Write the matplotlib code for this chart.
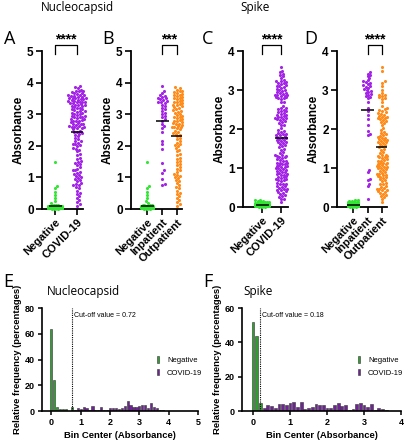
import numpy as np
import matplotlib
matplotlib.use("Agg")
import matplotlib.pyplot as plt
from matplotlib.patches import Patch
from matplotlib.transforms import ScaledTranslation

plt.rcParams['font.family'] = ['Liberation Sans', 'DejaVu Sans']

# ---- dot plot data (absorbance) ----
nuc_negative = [0.01, 0.02, 0.02, 0.03, 0.03, 0.03, 0.04, 0.04, 0.04, 0.04, 0.05, 0.05, 0.05, 0.05, 0.05,
                0.02, 0.03, 0.04, 0.01, 0.02, 0.03, 0.04, 0.05, 0.03, 0.02, 0.04, 0.03, 0.05, 0.04, 0.03,
                0.02, 0.04, 0.05, 0.03, 0.04, 0.01, 0.02, 0.03, 0.04, 0.05, 0.03, 0.04, 0.02, 0.03, 0.05,
                0.04, 0.03, 0.04,
                0.06, 0.07, 0.08, 0.09, 0.10, 0.11, 0.12, 0.13, 0.14, 0.06, 0.07, 0.08, 0.09, 0.10, 0.11,
                0.12, 0.08, 0.10,
                0.18, 0.25, 0.35, 0.45, 0.55, 0.65, 0.72, 1.50]
nuc_inpatient = [3.88, 3.75, 3.68, 3.62, 3.58, 3.55, 3.52, 3.50, 3.48, 3.45, 3.42, 3.40, 3.38, 3.35,
                 3.30, 3.25, 3.20, 3.15, 3.10, 3.05, 3.00, 2.95, 2.90, 2.85, 2.80, 2.70, 2.62, 2.55,
                 2.45, 2.15, 2.05, 1.90, 1.45, 1.22, 1.15, 0.95, 0.80, 0.75]
nuc_outpatient = [3.85, 3.82, 3.78, 3.75, 3.72, 3.70, 3.68, 3.65, 3.62, 3.60, 3.58, 3.55, 3.52, 3.50,
                  3.48, 3.45, 3.42, 3.40, 3.38, 3.35, 3.32, 3.30, 3.28, 3.25, 3.22, 3.20, 3.15, 3.12,
                  3.10, 3.08, 3.05, 3.02,
                  2.98, 2.95, 2.92, 2.90, 2.88, 2.85, 2.82, 2.80, 2.78, 2.75, 2.72, 2.70, 2.68, 2.65,
                  2.62, 2.60, 2.60, 2.58, 2.55, 2.52,
                  2.48, 2.45, 2.40, 2.38, 2.35, 2.30, 2.25, 2.20, 2.15, 2.10, 2.05, 2.02,
                  1.98, 1.92, 1.88, 1.82, 1.75, 1.70, 1.62, 1.58, 1.52,
                  1.48, 1.42, 1.38, 1.32, 1.28, 1.22, 1.18, 1.12, 1.08, 1.05, 1.02,
                  0.98, 0.92, 0.88, 0.82, 0.75, 0.70, 0.65, 0.58, 0.52,
                  0.48, 0.42, 0.35, 0.28, 0.22, 0.15, 0.10]
nuc_covid = nuc_inpatient + nuc_outpatient

spk_negative = [0.01, 0.02, 0.02, 0.03, 0.03, 0.03, 0.04, 0.04, 0.04, 0.04, 0.02, 0.03, 0.04, 0.01,
                0.02, 0.03, 0.04, 0.03, 0.02, 0.04, 0.03, 0.04, 0.03, 0.02, 0.04, 0.01, 0.02, 0.03,
                0.04, 0.03, 0.04, 0.02, 0.03, 0.04, 0.03, 0.02, 0.03, 0.04, 0.03,
                0.05, 0.06, 0.06, 0.07, 0.07, 0.08, 0.08, 0.09, 0.09, 0.10, 0.10, 0.11, 0.11, 0.12,
                0.12, 0.13, 0.14, 0.05, 0.06, 0.07, 0.08, 0.09, 0.10, 0.05, 0.06, 0.07, 0.08, 0.05,
                0.06, 0.07, 0.05, 0.06, 0.05,
                0.15, 0.16, 0.17, 0.18]
spk_inpatient = [3.45, 3.42, 3.38, 3.35, 3.30, 3.25, 3.22, 3.20, 3.18, 3.15, 3.12, 3.10, 3.08, 3.05,
                 3.02, 3.00, 2.98, 2.95, 2.92, 2.90, 2.88, 2.85, 2.82, 2.80, 2.70, 2.55, 2.45, 2.35,
                 2.25, 2.10, 1.95, 1.88, 1.85, 0.95, 0.90, 0.72, 0.68, 0.60, 0.55, 0.20]
spk_outpatient = [0.12, 0.20, 0.25, 0.28, 0.30, 0.33, 0.37, 0.39, 0.41, 0.43, 0.44, 0.45, 0.47, 0.49,
                  0.52, 0.54, 0.58, 0.60, 0.62, 0.66, 0.69, 0.71, 0.74, 0.76, 0.78, 0.79, 0.81, 0.83,
                  0.84, 0.85, 0.87, 0.90, 0.93, 0.96, 0.97, 0.99, 1.00, 1.02, 1.03, 1.04,
                  1.06, 1.07, 1.09, 1.10, 1.12, 1.13, 1.14, 1.17, 1.19, 1.21, 1.23,
                  1.26, 1.27, 1.29, 1.30, 1.32, 1.33, 1.34, 1.38, 1.42, 1.47, 1.50, 1.53,
                  1.56, 1.58, 1.61, 1.63, 1.66, 1.67, 1.69, 1.71, 1.72, 1.74,
                  1.76, 1.78, 1.80, 1.82, 1.84, 1.87, 1.90, 1.93, 1.97, 2.02, 2.10,
                  2.16, 2.18, 2.21, 2.23, 2.26, 2.27, 2.29, 2.31, 2.32, 2.34,
                  2.37, 2.39, 2.41, 2.43, 2.47, 2.49, 2.51, 2.53, 2.60, 2.70,
                  2.77, 2.79, 2.81, 2.84, 2.86, 2.88, 2.92, 3.00, 3.10, 3.18, 3.22, 3.50, 3.58]
spk_covid = spk_inpatient + spk_outpatient

# ---- histogram data (relative frequency, %) ----
nuc_bins = [0.0, 0.1, 0.2, 0.3, 0.4, 0.5, 0.6, 0.7, 0.8, 0.9, 1.0, 1.1, 1.2, 1.3, 1.4, 1.5, 1.6, 1.7,
            1.8, 1.9, 2.0, 2.1, 2.2, 2.3, 2.4, 2.5, 2.6, 2.7, 2.8, 2.9, 3.0, 3.1, 3.2, 3.3, 3.4, 3.5,
            3.6, 3.7, 3.8]
nuc_hist_neg = [64, 24.4, 3.1, 1.3, 1.3, 1.3, 0, 3.0] + [0] * 31
nuc_hist_cov = [0, 0, 0, 0, 0, 0, 0, 0, 1.0, 2.7,
                1.5, 3.2, 2.2, 0.6, 3.6, 1.0, 0.6, 2.9, 1.0, 1.0,
                2.3, 2.3, 2.3, 1.8, 2.5, 3.9, 8.0, 4.4, 3.1, 3.1,
                4.1, 4.6, 4.6, 2.0, 6.0, 3.4, 2.0, 1.0, 0.5]
spk_bins = [0.0, 0.1, 0.2, 0.3, 0.4, 0.5, 0.6, 0.7, 0.8, 0.9, 1.0, 1.1, 1.2, 1.3, 1.4, 1.5, 1.6, 1.7,
            1.8, 1.9, 2.0, 2.1, 2.2, 2.3, 2.4, 2.5, 2.6, 2.7, 2.8, 2.9, 3.0, 3.1, 3.2, 3.3, 3.4, 3.5,
            3.6]
spk_hist_neg = [51.6, 43.7, 4.9] + [0] * 34
spk_hist_cov = [0, 0, 0, 1.9, 3.5, 3.1, 1.6, 4.1, 4.1, 3.7,
                4.5, 5.0, 2.5, 5.0, 1.2, 1.9, 2.5, 3.9, 3.7, 3.7,
                1.6, 1.6, 3.7, 4.5, 3.1, 3.7, 0.5, 1.2, 4.1, 4.5,
                3.3, 2.5, 3.9, 0.3, 1.7, 1.0, 0.3]
nuc_cutoff = 0.72
spk_cutoff = 0.18

GREEN = '#33e633'
PURPLE = '#a323e6'
ORANGE = '#ff8c1a'
HGREEN = '#2e9e2e'
HPURPLE = '#6f2396'

W, H = 405, 440
fig = plt.figure(figsize=(W / 100, H / 100), dpi=100)


def px_axes(l, t, r, b):
    return fig.add_axes([l / W, 1 - b / H, (r - l) / W, (b - t) / H])


def swarm(vals, px_per_y, half, dmin=2.6, step=0.9):
    vals = np.asarray(vals, dtype=float)
    order = np.argsort(vals, kind='stable')
    cands = [0.0]
    k = 1
    while k * step <= half:
        cands += [k * step, -k * step]
        k += 1
    px, py = [], []
    out = np.zeros(len(vals))
    for i in order:
        y = vals[i] * px_per_y
        ax_ = np.array(px)
        ay_ = np.array(py)
        near = np.abs(ay_ - y) < dmin if len(py) else np.array([], dtype=bool)
        best, best_d = 0.0, -1
        for c in cands:
            if near.any():
                d = np.min(np.hypot(ax_[near] - c, ay_[near] - y))
            else:
                d = np.inf
            if d >= dmin:
                best = c
                break
            if d > best_d:
                best_d, best = d, c
        out[i] = best
        px.append(best)
        py.append(y)
    return out


def dot_panel(l, t, r, b, ymax, cats_px, groups, colors, halves, labels):
    ax = px_axes(l, t, r, b)
    pc = (cats_px[-1] - cats_px[0]) / (len(cats_px) - 1)
    ax.set_xlim((l - cats_px[0]) / pc, (r - cats_px[0]) / pc)
    ax.set_ylim(0, ymax)
    ppy = (b - t) / ymax
    for i, (g, c, hw) in enumerate(zip(groups, colors, halves)):
        off = swarm(g, ppy, hw) / pc
        ax.scatter(i + off, g, s=5, color=c, linewidths=0, clip_on=False, zorder=3)
        m = np.mean(g)
        ax.plot([i - 6.5 / pc, i + 6.5 / pc], [m, m], color='black', lw=1.1, zorder=4,
                solid_capstyle='butt')
    ax.set_xticks(range(len(groups)))
    ax.set_xticklabels(labels, rotation=45, ha='right', rotation_mode='anchor',
                       fontsize=8, fontweight='bold')
    shift = ScaledTranslation(-4 / 100, -8 / 100, fig.dpi_scale_trans)
    for lab in ax.get_xticklabels():
        lab.set_transform(lab.get_transform() + shift)
    ax.set_yticks(range(0, ymax + 1))
    ax.set_yticklabels([str(v) for v in range(0, ymax + 1)], fontsize=8.5, fontweight='bold')
    ax.tick_params(width=1.2, length=4, pad=2)
    for s in ['top', 'right']:
        ax.spines[s].set_visible(False)
    for s in ['left', 'bottom']:
        ax.spines[s].set_linewidth(1.3)
    ax.set_ylabel('Absorbance', fontsize=8.5, fontweight='bold', labelpad=2)
    return ax, ppy


def bracket(ax, ppy, ymax, x0, x1, stars):
    top = ymax + 6 / ppy
    leg = ymax - 3 / ppy
    ax.plot([x0, x0, x1, x1], [leg, top, top, leg], color='black', lw=0.9, clip_on=False)
    ax.text((x0 + x1) / 2, ymax + 12 / ppy, stars, ha='center', va='center', fontsize=10,
            fontweight='bold', clip_on=False)


axA, pA = dot_panel(42, 51, 83, 209, 5, [55, 77], [nuc_negative, nuc_covid], [GREEN, PURPLE],
                    [8, 9], ['Negative', 'COVID-19'])
bracket(axA, pA, 5, 0, 1, '****')
axB, pB = dot_panel(131, 51, 182, 209, 5, [147, 162, 177],
                    [nuc_negative, nuc_inpatient, nuc_outpatient], [GREEN, PURPLE, ORANGE],
                    [7, 5, 6], ['Negative', 'Inpatient', 'Outpatient'])
bracket(axB, pB, 5, 1, 2, '***')
axC, pC = dot_panel(243, 51, 288, 207, 4, [262, 281], [spk_negative, spk_covid], [GREEN, PURPLE],
                    [8, 7], ['Negative', 'COVID-19'])
bracket(axC, pC, 4, 0, 1, '****')
axD, pD = dot_panel(337, 51, 387, 207, 4, [353, 368, 382],
                    [spk_negative, spk_inpatient, spk_outpatient], [GREEN, PURPLE, ORANGE],
                    [6, 5, 5.5], ['Negative', 'Inpatient', 'Outpatient'])
bracket(axD, pD, 4, 1, 2, '****')


def hist_panel(l, t, r, b, xlim, ymax, bins, neg, cov, cutoff, xt, yt, leg_x):
    ax = px_axes(l, t, r, b)
    ax.bar(bins, neg, width=0.075, color=HGREEN, edgecolor='#333333', linewidth=0.4, zorder=2)
    ax.bar(bins, cov, width=0.075, color=HPURPLE, edgecolor='#333333', linewidth=0.4, zorder=2)
    ax.axvline(cutoff, ymin=0, ymax=1, color='black', ls=(0, (1, 1)), lw=0.8)
    ax.text(cutoff + 0.05, ymax * 0.93, 'Cut-off value = %.2f' % cutoff, fontsize=5, va='center')
    ax.set_xlim(*xlim)
    ax.set_ylim(0, ymax)
    ax.set_xticks(xt)
    ax.set_xticklabels([str(v) for v in xt], fontsize=6.5, fontweight='bold')
    ax.set_yticks(yt)
    ax.set_yticklabels([str(v) for v in yt], fontsize=6.5, fontweight='bold')
    ax.tick_params(width=1.1, length=3, pad=2)
    for s in ['top', 'right']:
        ax.spines[s].set_visible(False)
    for s in ['left', 'bottom']:
        ax.spines[s].set_linewidth(1.2)
    ax.set_xlabel('Bin Center (Absorbance)', fontsize=6.8, fontweight='bold', labelpad=3)
    ax.set_ylabel('Relative frequency (percentages)', fontsize=6.8, fontweight='bold', labelpad=2)
    handles = [Patch(facecolor=HGREEN, edgecolor='#333333', linewidth=0.4),
               Patch(facecolor=HPURPLE, edgecolor='#333333', linewidth=0.4)]
    fig.legend(handles, ['Negative', 'COVID-19'], loc='center left',
               bbox_to_anchor=(leg_x / W, 1 - 366.5 / H), frameon=False, fontsize=5.5,
               handlelength=0.3, handleheight=0.9, handletextpad=1.0, labelspacing=0.6,
               borderpad=0, borderaxespad=0)
    return ax


hist_panel(42, 308, 198, 411, (-0.32, 5), 80, nuc_bins, nuc_hist_neg, nuc_hist_cov, nuc_cutoff,
           [0, 1, 2, 3, 4, 5], [0, 20, 40, 60, 80], 157)
hist_panel(242, 308, 401, 411, (-0.3, 4), 60, spk_bins, spk_hist_neg, spk_hist_cov, spk_cutoff,
           [0, 1, 2, 3, 4], [0, 20, 40, 60], 358)

# titles and panel letters
for x, y, s in [(77, 8, 'Nucleocapsid'), (255, 8, 'Spike'), (83, 291, 'Nucleocapsid'),
                (258, 291, 'Spike')]:
    fig.text(x / W, 1 - y / H, s, ha='center', va='center', fontsize=8.5, family='Open Sans')
for x, y, s in [(4, 39, 'A'), (102, 39, 'B'), (202, 39, 'C'), (304, 39, 'D'),
                (3, 282, 'E'), (203, 282, 'F')]:
    fig.text(x / W, 1 - y / H, s, ha='left', va='center', fontsize=13, family='Open Sans')

fig.savefig('out.png', dpi=100)
